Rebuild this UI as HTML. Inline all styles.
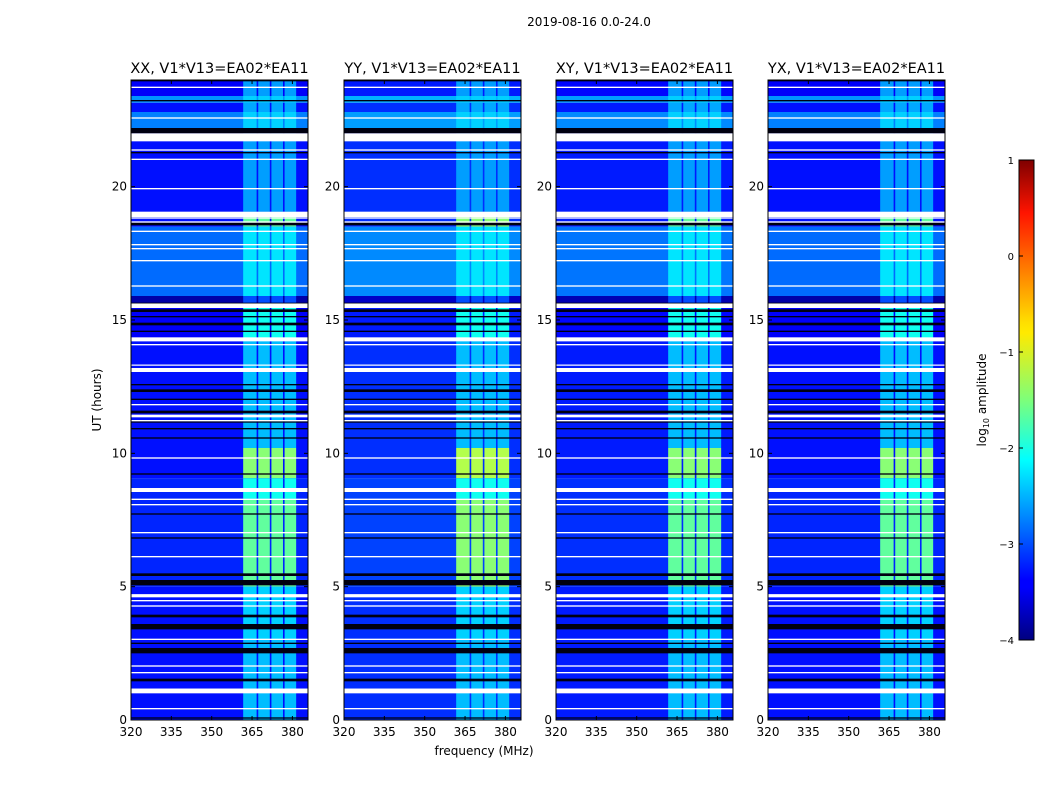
<!DOCTYPE html>
<html><head><meta charset="utf-8"><style>
body{margin:0;background:#fff;}
svg text{font-family:"DejaVu Sans","Liberation Sans",sans-serif;fill:#000;}
</style></head><body>
<svg id="fig" width="1050" height="800" viewBox="0 0 1050 800" xmlns="http://www.w3.org/2000/svg">
<text x="589" y="26" font-size="12" text-anchor="middle">2019-08-16 0.0-24.0</text>
<text x="484" y="755" font-size="12" text-anchor="middle">frequency (MHz)</text>
<text x="0" y="0" font-size="12" text-anchor="middle" transform="translate(101,400) rotate(-90)">UT (hours)</text>
<defs><linearGradient id="jet" x1="0" y1="1" x2="0" y2="0">
<stop offset="0" stop-color="#00007f"/><stop offset="0.11" stop-color="#0000ff"/><stop offset="0.125" stop-color="#0000ff"/><stop offset="0.34" stop-color="#00dcff"/><stop offset="0.375" stop-color="#00ffff"/><stop offset="0.5" stop-color="#7dff7a"/><stop offset="0.64" stop-color="#ffea00"/><stop offset="0.66" stop-color="#ffe000"/><stop offset="0.89" stop-color="#ff1400"/><stop offset="1" stop-color="#7f0000"/>
</linearGradient></defs>
<g id="panels"></g>
<rect x="1019" y="160" width="15" height="480" fill="url(#jet)" stroke="#000" stroke-width="1"/>
<g id="cbticks"></g>
<text x="0" y="0" font-size="12" text-anchor="middle" transform="translate(986,400) rotate(-90)">log<tspan font-size="8" dy="3">10</tspan><tspan dy="-3"> amplitude</tspan></text>
</svg>
<script>
const panelTitles=["XX, V1*V13=EA02*EA11","YY, V1*V13=EA02*EA11","XY, V1*V13=EA02*EA11","YX, V1*V13=EA02*EA11"];
const panelBgOffset=[0,0.15,0.05,0];
const panelBandOffset=[0,0.2,0,0];
const bandStart=[361.7,367.3,372.2,377.1];
const bandEnd=[366.7,371.6,376.5,381.4];
const segStart=[0,1.18,3.0,5.0,8.3,9.07,10.2,14.2,15.45,15.9,18.5,19.06,21.75,22.2,22.8,23.15,23.4];
const segEnd=[1.18,3.0,5.0,8.3,9.07,10.2,14.2,15.45,15.9,18.5,19.06,21.75,22.2,22.8,23.15,23.4,24];
const segBg=[-3.3,-3.3,-3.3,-3.2,-3.2,-3.3,-3.3,-3.4,-3.8,-2.85,-3.3,-3.3,-3.7,-2.75,-3.3,-2.65,-3.4];
const segBand=[-2.45,-2.45,-2.35,-1.65,-2.05,-1.45,-2.45,-2.05,-3.0,-2.25,-1.65,-2.6,-3.0,-2.35,-2.55,-2.35,-2.6];
const whiteRows=[[1.0,1.18],[0.4,0.45],[1.75,1.8],[2.0,2.05],[3.0,3.05],[4.25,4.3],[4.45,4.5],[4.6,4.72],[6.1,6.15],[7.0,7.05],[8.05,8.1],[8.25,8.3],[8.55,8.7],[9.8,9.85],[11.2,11.25],[11.35,11.45],[11.8,11.85],[13.05,13.2],[13.3,13.33],[14.05,14.1],[14.2,14.35],[15.45,15.62],[16.25,16.3],[17.2,17.25],[17.65,17.7],[17.8,17.85],[18.3,18.35],[18.65,18.7],[18.8,18.85],[18.86,19.06],[19.9,19.95],[21.0,21.05],[21.35,21.4],[21.7,22.0],[22.55,22.6],[23.7,23.75]];
const blackRows=[[0.05,0.1],[1.45,1.55],[2.5,2.7],[2.85,2.9],[3.4,3.6],[3.85,3.95],[5.05,5.25],[5.4,5.5],[6.8,6.85],[7.7,7.75],[9.2,9.25],[10.55,10.6],[10.9,10.95],[11.15,11.2],[11.5,11.6],[12.0,12.05],[12.3,12.4],[12.55,12.6],[14.55,14.6],[14.8,14.9],[15.1,15.15],[15.3,15.4],[15.62,15.65],[18.55,18.65],[21.25,21.3],[22.0,22.2],[23.2,23.25],[23.95,24]];
const yTicks=[0,5,10,15,20];
const xTicks=[320,335,350,365,380];
const cbTicks=[1,0,-1,-2,-3,-4];

const NS="http://www.w3.org/2000/svg";
const panelLeft=[131,344,556,768], PW=177, TOP=80, BOT=720;
const FMIN=320,FMAX=385.8,VMIN=-4,VMAX=1;
function jet(v){let t=(v-VMIN)/(VMAX-VMIN);t=Math.max(0,Math.min(1,t));
 const c=x=>Math.round(255*Math.max(0,Math.min(1,x)));
 const r=c(1.5-Math.abs(4*t-3)),g=c(1.5-Math.abs(4*t-2)),b=c(1.5-Math.abs(4*t-1));
 return `rgb(${r},${g},${b})`;}
function mk(tag,attrs,parent){const e=document.createElementNS(NS,tag);for(const k in attrs)e.setAttribute(k,attrs[k]);parent.appendChild(e);return e;}
const root=document.getElementById('panels');
panelTitles.forEach((title,p)=>{
 const L=panelLeft[p];
 const xs=f=>L+(f-FMIN)/(FMAX-FMIN)*PW;
 const ys=h=>BOT-h/24*(BOT-TOP);
 const g=mk('g',{},root);
 
 
 for(let i=0;i<segStart.length;i++){
  const y0=ys(segEnd[i]),y1=ys(segStart[i]);
  const r=mk('rect',{x:L,y:y0,width:PW,height:y1-y0,fill:jet(segBg[i]+panelBgOffset[p])},g);
  
  
  for(let b=0;b<bandStart.length;b++){
   const br=mk('rect',{x:xs(bandStart[b]),y:y0,width:xs(bandEnd[b])-xs(bandStart[b]),height:y1-y0,fill:jet(segBand[i]+panelBandOffset[p]*(segBand[i]>-1.8?1:0))},g);
   
   
  }
 }
 blackRows.forEach(([a,b])=>{const r=mk('rect',{x:L,y:ys(b),width:PW,height:Math.max(1,ys(a)-ys(b)),fill:'#000010'},g);
  
  });
 whiteRows.forEach(([a,b])=>{const r=mk('rect',{x:L,y:ys(b),width:PW,height:Math.max(1.2,ys(a)-ys(b)),fill:'#fff'},g);
  
  });
 const fr=mk('rect',{x:L,y:TOP,width:PW,height:BOT-TOP,fill:'none',stroke:'#000','stroke-width':1},g);
 
 
 const t=mk('text',{x:L+PW/2,y:73,'font-size':14.5,'text-anchor':'middle'},g);t.textContent=title;
 
 
 yTicks.forEach(v=>{const y=ys(v);
  mk('line',{x1:L,x2:L+4,y1:y,y2:y,stroke:'#000'},g);mk('line',{x1:L+PW-4,x2:L+PW,y1:y,y2:y,stroke:'#000'},g);
  const tx=mk('text',{x:L-4,y:y+4,'font-size':12,'text-anchor':'end'},g);tx.textContent=v;
  
  });
 xTicks.forEach(v=>{const x=xs(v);
  mk('line',{x1:x,x2:x,y1:BOT,y2:BOT-4,stroke:'#000'},g);mk('line',{x1:x,x2:x,y1:TOP,y2:TOP+4,stroke:'#000'},g);
  const tx=mk('text',{x:x,y:736,'font-size':12,'text-anchor':'middle'},g);tx.textContent=v;
  
  });
});
const cb=document.getElementById('cbticks');
cbTicks.forEach(v=>{const y=640-(v-VMIN)/(VMAX-VMIN)*480;
 mk('line',{x1:1019,x2:1023,y1:y,y2:y,stroke:'#000'},cb);
 const tx=mk('text',{x:1014,y:y+4,'font-size':10,'text-anchor':'end'},cb);tx.textContent=v<0?'\u2212'+(-v):v;
 
 });
</script>
</body></html>
